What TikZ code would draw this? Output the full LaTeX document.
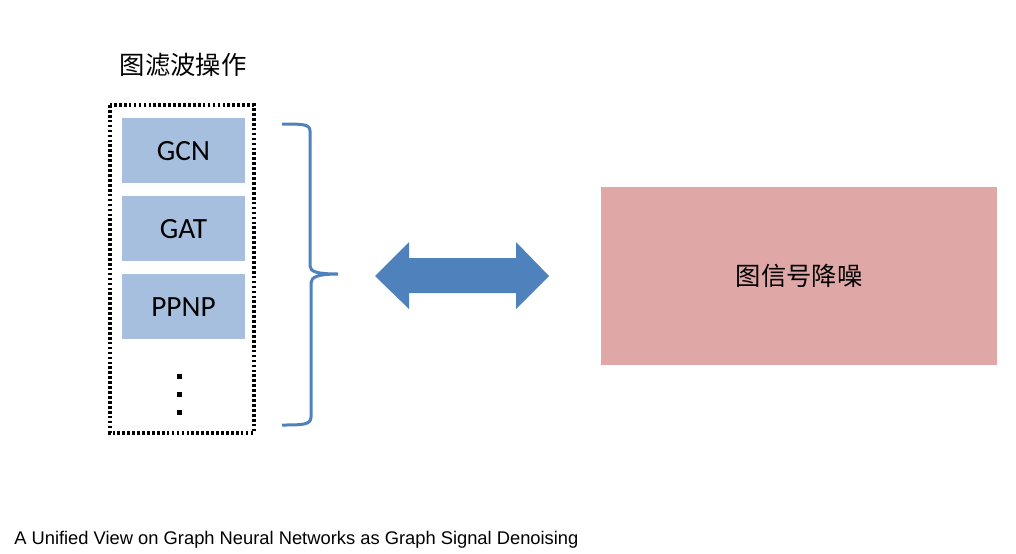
\documentclass[tikz,border=0pt]{standalone}
\usepackage{fontspec}
\setmainfont{Carlito}
\newfontfamily\cjk{Noto Sans CJK SC}
\newfontfamily\arialfont{Liberation Sans}
\usetikzlibrary{positioning}

\definecolor{opblue}{HTML}{A7BFDE}
\definecolor{denoisepink}{HTML}{DFA7A6}
\definecolor{linkblue}{HTML}{4F81BD}

\tikzset{
    opbox/.style={fill=opblue, minimum width=92.25pt, minimum height=48.75pt, inner sep=0pt, text depth=0pt, font=\fontsize{22}{26}\selectfont},
    filterbox/.style={line width=2.5pt, dash pattern=on 2pt off 1.7pt},
    cjklabel/.style={font=\cjk\fontsize{19}{23}\selectfont}
}

\begin{document}
\begin{tikzpicture}[x=0.75pt, y=-0.75pt]
    \useasboundingbox (0,0) rectangle (1016,553);

    % left: graph filtering operations
    \node[cjklabel] (title) at (183,65) {图滤波操作};
    \draw[filterbox] (110,105) rectangle (254,433);

    \node[opbox] (gcn) at (183.5,150.5) {GCN};
    \node[opbox, below=9.4pt of gcn] (gat) {GAT};
    \node[opbox, below=9.4pt of gat] (ppnp) {PPNP};

    \foreach \y in {376,394,412}
    \fill (177,\y-2.5) rectangle (182,\y+2.5);

    % brace and double arrow
    \draw[linkblue, line width=2.25pt] (282,124) .. controls (302,124) and (310,124) .. (310,131) -- (310,266)
        .. controls (310,272) and (318,274) .. (338,274)
        .. controls (318,274) and (311,277) .. (311,283) -- (311,417)
        .. controls (311,425) and (302,425) .. (282,425);

    \fill[linkblue] (375,276) -- (409,242) -- (409,258) -- (516,258) -- (516,242) -- (549,276)
        -- (516,309) -- (516,293) -- (409,293) -- (409,309) -- cycle;

    % right: graph signal denoising
    \node[fill=denoisepink, minimum width=297pt, minimum height=133.5pt, cjklabel] (denoise) at (799,276) {图信号降噪};

    \node[anchor=base west, inner sep=0pt, font=\arialfont\fontsize{13.75}{16}\selectfont] (caption) at (14,544)
        {A Unified View on Graph Neural Networks as Graph Signal Denoising};
\end{tikzpicture}
\end{document}
